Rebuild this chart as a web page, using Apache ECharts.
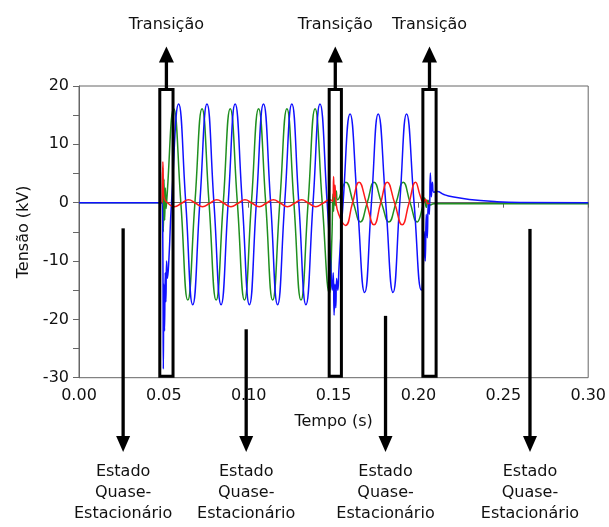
<!DOCTYPE html>
<html>
<head>
<meta charset="utf-8">
<script src="https://cdn.jsdelivr.net/npm/echarts@6/dist/echarts.min.js"></script>
<style>
html,body{margin:0;padding:0;background:#fff;}
#chart{width:609px;height:527px;}
</style>
</head>
<body>
<div id="chart"></div>
<script>
// ---- data: [time (s), voltage (kV)] ----
const phaseBlue = [
[0,0],[0.0490,0],[0.0494,-8],[0.0497,-28.5],[0.0500,-14],[0.0504,-22],[0.0508,-12],[0.0512,-17],[0.0516,-10],[0.0521,-13],[0.0530,-9.5],
[0.0545,0],[0.0587,16.9],[0.0629,0],[0.0670,-17.5],[0.0712,0],[0.0754,16.9],[0.0795,0],[0.0837,-17.5],[0.0879,0],[0.0920,16.9],
[0.0962,0],[0.1004,-17.5],[0.1045,0],[0.1087,16.9],[0.1129,0],[0.1170,-17.5],[0.1212,0],[0.1254,16.9],[0.1295,0],[0.1337,-17.5],
[0.1379,0],[0.1420,16.9],[0.1462,0],[0.1482,-10],[0.1492,-15],[0.1498,-12],[0.1503,-19.3],[0.1508,-14],[0.1513,-18],[0.1518,-13],
[0.1525,-15],[0.1532,-11],[0.1556,0],[0.1597,15.2],[0.1640,0],[0.1683,-15.4],[0.1723,0],[0.1763,15.2],[0.1807,0],[0.1850,-15.4],
[0.1890,0],[0.1930,15.2],[0.1974,0],[0.2017,-15],[0.2028,-11],[0.2034,-5],[0.2040,-10],[0.2046,-2],[0.2052,-6],[0.2058,0],
[0.2064,-2],[0.2070,5.1],[0.2076,1],[0.2082,3.5],[0.2090,1.8],[0.2110,1.9],[0.2150,1.4],[0.2200,1.0],[0.2300,0.55],[0.2450,0.2],
[0.2600,0.05],[0.3000,0]
];
const phaseGreen = [
[0,0],[0.0490,0],[0.0493,6],[0.0497,-5],[0.0501,4],[0.0505,-3],[0.0509,2.5],[0.0513,-1],[0.0516,0],
[0.0558,16.1],[0.0600,0],[0.0641,-16.7],[0.0683,0],[0.0725,16.1],[0.0766,0],[0.0808,-16.7],[0.0850,0],[0.0891,16.1],
[0.0933,0],[0.0975,-16.7],[0.1016,0],[0.1058,16.1],[0.1100,0],[0.1141,-16.7],[0.1183,0],[0.1225,16.1],[0.1266,0],
[0.1308,-16.7],[0.1350,0],[0.1391,16.1],[0.1433,0],[0.1475,-15.5],[0.1490,-6],[0.1496,1.5],[0.1500,-1.5],[0.1505,3],
[0.1510,-0.5],[0.1516,2],[0.1524,0.5],[0.1572,3.5],[0.1616,0],[0.1658,-3.3],[0.1698,0],[0.1738,3.5],[0.1782,0],
[0.1826,-3.3],[0.1868,0],[0.1910,3.5],[0.1951,0],[0.1992,-3.3],[0.2024,-0.8],[0.2036,0.8],[0.2046,-0.8],[0.2056,0.4],
[0.2068,-0.4],[0.2090,-0.2],[0.3000,-0.2]
];
const phaseRed = [
[0.0490,0],[0.0494,7],[0.0498,1.5],[0.0502,0.8],[0.0508,0.4],[0.0520,0],[0.0562,-0.7],[0.0604,-0.1],[0.0645,0.5],
[0.0687,-0.1],[0.0728,-0.7],[0.0770,-0.1],[0.0812,0.5],[0.0853,-0.1],[0.0895,-0.7],[0.0937,-0.1],[0.0978,0.5],
[0.1020,-0.1],[0.1062,-0.7],[0.1103,-0.1],[0.1145,0.5],[0.1187,-0.1],[0.1228,-0.7],[0.1270,-0.1],[0.1312,0.5],
[0.1353,-0.1],[0.1395,-0.7],[0.1437,-0.1],[0.1478,0.5],[0.1496,0.2],[0.1500,4.5],[0.1504,1],[0.1508,3],[0.1513,0.5],
[0.1530,-2],[0.1570,-3.9],[0.1611,-0.1],[0.1650,3.5],[0.1694,-0.1],[0.1738,-3.8],[0.1777,-0.1],[0.1816,3.5],
[0.1860,-0.1],[0.1904,-3.8],[0.1944,-0.1],[0.1983,3.5],[0.2010,1.2],[0.2030,0],[0.2042,0.6],[0.2055,-0.2],[0.2065,0]
];

// axis ticks
const xTicks = {min: 0, max: 0.30, step: 0.05};
const yTicks = {min: -30, max: 20, step: 10};

// annotations (data coordinates)
const transitionBoxes = [[0.0476, 0.0554], [0.1474, 0.1546], [0.2026, 0.2104]];
const boxTopKV = 19.4, boxBottomKV = -29.75;
const transitionLabel = 'Transição';
const stateTimes = [0.0260, 0.0985, 0.1806, 0.2657];
const stateArrowTopKV = [-4.4, -21.7, -19.4, -4.5];
const stateLabel = 'Estado\nQuase-\nEstacionário';

const FONT = 'DejaVu Sans';
const chart = echarts.init(document.getElementById('chart'), null, {renderer: 'canvas'});

const lineSeries = (name, data, color, z) => ({
  name, type: 'line', data, showSymbol: false, symbol: 'none', smooth: 0.5,
  lineStyle: {color, width: 1.5}, z, animation: false
});

chart.setOption({
  animation: false,
  backgroundColor: '#fff',
  grid: {left: 79, top: 86, width: 511.5, height: 291.7, show: true, borderColor: '#666', borderWidth: 1, backgroundColor: 'transparent'},
  xAxis: {
    type: 'value', min: xTicks.min, max: xTicks.max, interval: xTicks.step,
    name: 'Tempo (s)', nameLocation: 'middle', nameGap: 36,
    nameTextStyle: {fontFamily: FONT, fontSize: 16, color: '#111'},
    axisLine: {lineStyle: {color: '#666', width: 1}},
    axisTick: {show: true, length: 5, lineStyle: {color: '#666'}},
    axisLabel: {fontFamily: FONT, fontSize: 16, color: '#111', margin: 10, formatter: v => v.toFixed(2)},
    splitLine: {show: false}
  },
  yAxis: {
    type: 'value', min: yTicks.min, max: yTicks.max, interval: yTicks.step,
    name: 'Tensão (kV)', nameLocation: 'middle', nameGap: 46,
    nameTextStyle: {fontFamily: FONT, fontSize: 16, color: '#111'},
    axisLine: {show: true, lineStyle: {color: '#666', width: 1}},
    axisTick: {show: true, length: 6, lineStyle: {color: '#666'}},
    minorTick: {show: true, splitNumber: 2, length: 6, lineStyle: {color: '#666'}},
    axisLabel: {fontFamily: FONT, fontSize: 16, color: '#111', margin: 10},
    splitLine: {show: false}
  },
  series: [
    lineSeries('Fase B', phaseGreen, '#1f8f1f', 2),
    lineSeries('Fase A', phaseBlue, '#1010ff', 3),
    lineSeries('Fase C', phaseRed, '#ff1a1a', 4)
  ]
});

// annotation graphics positioned through the axes
const px = (t, v) => chart.convertToPixel({xAxisIndex: 0, yAxisIndex: 0}, [t, v]);
const g = [];
transitionBoxes.forEach(([t0, t1]) => {
  const a = px(t0, boxTopKV), b = px(t1, boxBottomKV);
  g.push({type: 'rect', z: 100, shape: {x: a[0], y: a[1], width: b[0] - a[0], height: b[1] - a[1]},
    style: {fill: null, stroke: '#000', lineWidth: 3}});
  const cx = (a[0] + b[0]) / 2;
  g.push({type: 'line', z: 100, shape: {x1: cx, y1: a[1], x2: cx, y2: 61}, style: {stroke: '#000', lineWidth: 3.3}});
  g.push({type: 'polygon', z: 100, shape: {points: [[cx - 7.5, 62.5], [cx + 7.5, 62.5], [cx, 46.5]]}, style: {fill: '#000'}});
  g.push({type: 'text', z: 100, x: cx, y: 25, style: {text: transitionLabel, fontFamily: FONT, fontSize: 16, fill: '#111', align: 'center', verticalAlign: 'middle'}});
});
stateTimes.forEach((t, i) => {
  const a = px(t, stateArrowTopKV[i]);
  const cx = a[0];
  g.push({type: 'line', z: 100, shape: {x1: cx, y1: a[1], x2: cx, y2: 437}, style: {stroke: '#000', lineWidth: 3.3}});
  g.push({type: 'polygon', z: 100, shape: {points: [[cx - 7, 436], [cx + 7, 436], [cx, 452]]}, style: {fill: '#000'}});
  g.push({type: 'text', z: 100, x: cx, y: 461, style: {text: stateLabel, fontFamily: FONT, fontSize: 16, lineHeight: 21, fill: '#111', align: 'center', verticalAlign: 'top'}});
});
chart.setOption({graphic: g});
</script>
</body>
</html>
